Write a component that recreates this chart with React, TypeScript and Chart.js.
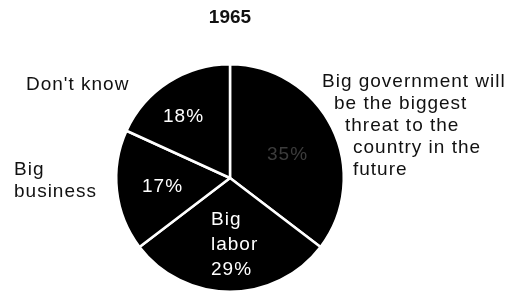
import React, { useEffect, useRef } from "react";
import { Chart, ArcElement, PieController } from "chart.js";

Chart.register(ArcElement, PieController);

const chartTitle = "1965";
const categories = ["Big government", "Big labor", "Big business", "Don't know"];
const values = [35, 29, 17, 18];
const insideLabels = [["35%"], ["Big", "labor", "29%"], ["17%"], ["18%"]];
const outsideLabels = [
  ["Big government will", "be the biggest", "threat to the", "country in the", "future"],
  [],
  ["Big", "business"],
  ["Don't know"],
];

const FONT = '"Liberation Sans", Arial, Helvetica, sans-serif';

// text anchors (x, y of first line middle), per slice
const insidePos = [
  { x: 267, y: 155, color: "#3c3c3c" },
  { x: 211, y: 220, color: "#ffffff" },
  { x: 142, y: 187, color: "#ffffff" },
  { x: 163, y: 117, color: "#ffffff" },
];
const outsidePos = [
  { xs: [322, 334, 345, 353, 353], y: 82 },
  { xs: [], y: 0 },
  { xs: [14, 14], y: 170 },
  { xs: [26], y: 85 },
];

const labelPlugin = {
  id: "labelPlugin",
  afterDraw(chart: any) {
    const ctx = chart.ctx as CanvasRenderingContext2D;
    ctx.save();
    // title
    ctx.font = `bold 19px ${FONT}`;
    ctx.fillStyle = "#111";
    ctx.textAlign = "center";
    ctx.textBaseline = "middle";
    (ctx as any).letterSpacing = "0px";
    ctx.fillText(chartTitle, 230, 18);

    ctx.font = `19px ${FONT}`;
    (ctx as any).letterSpacing = "1px";
    ctx.textAlign = "left";
    const lh = 22;
    outsideLabels.forEach((lines, i) => {
      const p = outsidePos[i];
      lines.forEach((t, j) => {
        ctx.fillStyle = "#111";
        ctx.fillText(t, p.xs[j], p.y + j * lh);
      });
    });
    insideLabels.forEach((lines, i) => {
      const p = insidePos[i];
      lines.forEach((t, j) => {
        ctx.fillStyle = p.color;
        ctx.fillText(t, p.x, p.y + j * 25);
      });
    });
    ctx.restore();
  },
};

export default function App() {
  const ref = useRef<HTMLCanvasElement | null>(null);
  useEffect(() => {
    if (!ref.current) return;
    const chart = new Chart(ref.current, {
      type: "pie",
      data: {
        labels: categories,
        datasets: [
          {
            data: values,
            backgroundColor: "#000000",
            borderColor: "#ffffff",
            borderWidth: 2.5,
          },
        ],
      },
      options: {
        responsive: false,
        animation: false,
        events: [],
        layout: { padding: { top: 63, bottom: 4, left: 0, right: 55 } },
        plugins: {
          legend: { display: false },
          tooltip: { enabled: false },
          title: { display: false },
        },
      },
      plugins: [labelPlugin],
    });
    return () => chart.destroy();
  }, []);
  return (
    <div style={{ position: "absolute", left: 0, top: 0, width: 515, height: 297, background: "#fff" }}>
      <canvas ref={ref} width={515} height={297} />
    </div>
  );
}
